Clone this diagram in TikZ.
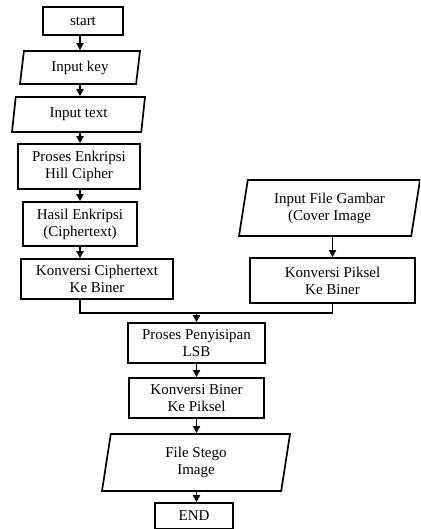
\documentclass[tikz,border=0pt]{standalone}
\usepackage{fontspec}
\setmainfont{Liberation Serif}
\usetikzlibrary{arrows.meta, shapes.geometric}

\begin{document}
\begin{tikzpicture}[x=1pt, y=-1pt,
    box/.style={draw, line width=1.7pt, align=center, inner sep=0pt, font=\fontsize{15}{17}\selectfont},
    iobox/.style={box, trapezium, trapezium left angle=74, trapezium right angle=106, trapezium stretches body},
    flow/.style={line width=1.7pt, -{Triangle[length=7pt, width=7pt]}}]
    \useasboundingbox (0,0) rectangle (420,529);
    \clip (0,0) rectangle (420,529);

    % --- LEFT COLUMN (ENKRIPSI) ---
    \node[box, minimum width=80pt, minimum height=28pt] (start) at (83,21) {start};
    \node[iobox, minimum width=120pt, minimum height=33pt] (inkey) at (80,67.5) {Input key};
    \node[iobox, minimum width=133pt, minimum height=35pt] (intext) at (78.5,114.5) {Input text};
    \node[box, minimum width=122pt, minimum height=45pt] (enkripsi) at (79,166.5) {Proses Enkripsi\\Hill Cipher};
    \node[box, minimum width=114pt, minimum height=44pt] (hasil) at (80,224) {Hasil Enkripsi\\(Ciphertext)};
    \node[box, minimum width=152pt, minimum height=40pt] (konvC) at (97,279) {Konversi Ciphertext\\Ke Biner};

    % --- RIGHT COLUMN (GAMBAR) ---
    \node[iobox, minimum width=181pt, minimum height=56pt] (gambar) at (329.5,208) {Input File Gambar\\(Cover Image};
    \node[box, minimum width=165pt, minimum height=45pt] (konvP) at (332.5,280.5) {Konversi Piksel\\Ke Biner};

    % --- BOTTOM (PENYISIPAN) ---
    \node[box, minimum width=137pt, minimum height=40pt] (sisip) at (196.5,343) {Proses Penyisipan\\LSB};
    \node[box, minimum width=135pt, minimum height=40pt] (konvB) at (196.5,398) {Konversi Biner\\Ke Piksel};
    \node[iobox, minimum width=188pt, minimum height=57pt] (stego) at (196,462.5) {File Stego\\Image};
    \node[box, minimum width=78pt, minimum height=26pt] (end) at (194,516) {END};

    % Arrows
    \foreach \a/\b in {start/inkey, inkey/intext, intext/enkripsi, enkripsi/hasil, hasil/konvC}
        \draw[flow] (\a.south -| hasil) -- (\b.north -| hasil);
    \draw[flow] (gambar.south -| konvP) -- (konvP.north);

    \coordinate (join) at (197,313);
    \draw[line width=1.7pt] (konvC.south -| hasil) |- (join) -| (konvP.south);
    \draw[flow] (join -| sisip) -- (sisip.north);

    \foreach \a/\b in {sisip/konvB, konvB/stego, stego/end}
        \draw[flow] (\a.south -| sisip) -- (\b.north -| sisip);
\end{tikzpicture}
\end{document}
